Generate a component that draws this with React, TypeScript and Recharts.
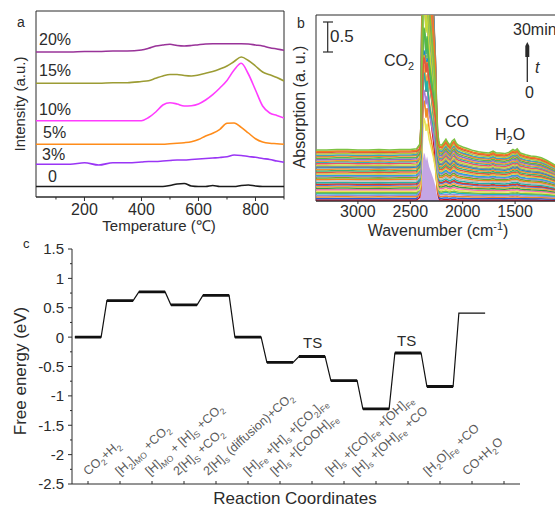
import React from 'react';
import { LineChart, ComposedChart, Line, Area, XAxis, YAxis, ReferenceArea } from 'recharts';

const FONT = '"Liberation Sans", Arial, Helvetica, sans-serif';
const INK = '#2b2b2b';

// ---------- panel a: temperature profiles ----------
const temps = [30, 100, 150, 200, 250, 300, 350, 400, 425, 450, 475, 500, 525, 550, 575, 600, 625, 650, 675, 700, 725, 750, 775, 800, 825, 850, 875, 900];
const tpr0 = [10.5, 10.5, 10.5, 10.5, 10.5, 10.5, 10.5, 10.5, 10.5, 10.5, 10.5, 11.5, 13, 13.5, 11, 10.5, 10.5, 11.5, 10.5, 10.5, 10.5, 11.5, 12, 11, 10.5, 10.5, 10.5, 10.5];
const tpr3 = [32.7, 32.7, 32.7, 34.3, 32, 34.3, 34.3, 35, 35.5, 35.5, 36, 36.5, 37, 37, 37.5, 38, 38.5, 39, 39.5, 40.3, 42, 41.5, 40.5, 39.7, 38.5, 37.5, 36, 34.7];
const tpr5 = [52.7, 52.7, 52.7, 52.7, 52.7, 52.7, 52.7, 52.7, 52.7, 52.7, 52.7, 53.3, 53.7, 54.3, 55.3, 57.5, 61, 63.7, 67.7, 73.7, 74, 69.7, 64, 58.3, 55, 53.7, 53.3, 52.7];
const tpr10 = [76.3, 76.3, 76.3, 76.3, 76.3, 76.3, 76.3, 76.3, 79.5, 85, 92, 94.3, 93, 91, 91.3, 93, 97, 102.3, 109, 116.5, 127, 133.7, 123, 107, 91, 84, 81.5, 79];
const tpr15 = [113.7, 113.7, 113.7, 113.7, 113.7, 114.3, 114.3, 115.5, 116.3, 118.7, 121, 122.5, 122.5, 121.5, 121, 122, 123.7, 125.5, 128, 131, 135.5, 140, 136.5, 131, 125, 122.3, 119.5, 116];
const tpr20 = [145, 145, 145, 145.5, 145.5, 146, 146, 147, 148.7, 151, 152, 152.7, 151.5, 151, 151.5, 152.3, 153, 153.3, 153.3, 153.3, 153.3, 153.3, 153, 152, 151, 149.3, 148, 146.7];
const tprKeys = ['p0', 'p3', 'p5', 'p10', 'p15', 'p20'];
const tprColors = ['#1a1a1a', '#9a35f5', '#ff8c1a', '#ff3cff', '#9c9c34', '#993399'];
const tprTicks = [100, 200, 300, 400, 500, 600, 700, 800, 900];

const tprRows = temps.map((t, i) => ({
  t, p0: tpr0[i], p3: tpr3[i], p5: tpr5[i], p10: tpr10[i], p15: tpr15[i], p20: tpr20[i],
}));

// ---------- panel b: in-situ spectra ----------
const wavenumbers = [3400, 3300, 3200, 3100, 3000, 2900, 2800, 2700, 2600, 2500, 2440, 2410, 2400, 2390, 2380, 2370, 2360, 2350, 2340, 2330, 2320, 2300, 2280, 2260, 2250, 2240, 2230, 2220, 2200, 2180, 2160, 2140, 2120, 2100, 2080, 2060, 2040, 2000, 1950, 1900, 1850, 1800, 1750, 1710, 1680, 1650, 1600, 1560, 1520, 1500, 1480, 1450, 1400, 1350, 1300, 1250, 1200, 1150, 1100];
// background of the 30 min spectrum (CO2 band excluded)
const finalSpectrum = [0.85, 0.85, 0.86, 0.86, 0.85, 0.85, 0.86, 0.85, 0.86, 0.86, 0.87, 0.88, 0.9, 0.92, 0.93, 0.94, 0.95, 0.96, 0.97, 0.98, 0.99, 1.0, 1.0, 0.99, 0.98, 0.97, 0.95, 0.94, 0.93, 0.98, 1.03, 0.97, 0.93, 1.0, 1.03, 0.96, 0.93, 0.9, 0.87, 0.84, 0.82, 0.81, 0.8, 0.83, 0.8, 0.8, 0.79, 0.81, 0.86, 0.84, 0.87, 0.8, 0.77, 0.75, 0.74, 0.72, 0.68, 0.63, 0.58];
// gas-phase CO2 band profile
const co2Band = [0, 0, 0, 0, 0, 0, 0, 0, 0, 0, 0, 0.02, 0.08, 0.45, 0.85, 1.0, 0.95, 0.82, 0.92, 0.8, 0.7, 0.58, 0.45, 0.3, 0.16, 0.06, 0.02, 0, 0, 0, 0, 0, 0, 0, 0, 0, 0, 0, 0, 0, 0, 0, 0, 0, 0, 0, 0, 0, 0, 0, 0, 0, 0, 0, 0, 0, 0, 0, 0];
const spectrumLevels = [0.02, 0.05, 0.08, 0.11, 0.14, 0.16, 0.19, 0.22, 0.25, 0.28, 0.31, 0.33, 0.36, 0.39, 0.42, 0.45, 0.48, 0.5, 0.53, 0.56, 0.59, 0.62, 0.65, 0.67, 0.7, 0.73, 0.76, 0.78, 0.81, 0.84, 0.87, 0.89, 0.92, 0.95, 0.97, 1.0];
const co2Amps = [2.2, 4.5, 1.6, 3.4, 5.8, 2.7, 1.2, 3.9, 6.5, 2.0, 3.1, 4.8, 1.8, 2.5, 5.2, 3.6, 1.4, 4.2, 2.9, 6.0, 2.3, 3.3, 1.9, 5.5, 2.6, 4.0, 3.0, 1.7, 4.6, 2.1, 3.7, 5.0, 2.8, 1.5, 4.4, 3.2];
const spectrumColors = ['#c8102e', '#1f5fd6', '#f08a24', '#9b8bd9', '#19b5c9', '#7fbf3f', '#e8e35a', '#ee6aa7', '#2f9e44', '#f4a340', '#5b6fd6', '#d8392b', '#22b3a6', '#b8b8b8', '#f07f1e', '#6aaa2a', '#a87fd1', '#27a6d9', '#e0c13a', '#e2553f', '#3cb371', '#f2912b', '#1e88c7', '#8e8e8e', '#c6d93c', '#e64f6e', '#2cb5b5', '#f6a02d', '#8a6bc9', '#58b947', '#ff7f24', '#3aa0c8', '#b0c93a', '#e2553f', '#f47b20', '#7dc242'];
const startLevel = 0.01;
const startCo2 = 0.8;

const spectraRows = wavenumbers.map((wn, i) => {
  const row: Record<string, number> = { wn, lav: startLevel * finalSpectrum[i] + startCo2 * co2Band[i] };
  spectrumLevels.forEach((lv, k) => {
    row['s' + k] = lv * finalSpectrum[i] + co2Amps[k] * co2Band[i];
  });
  return row;
});

// ---------- panel c: free energy diagram ----------
const energies = [0, 0.62, 0.77, 0.55, 0.71, 0, -0.43, -0.33, -0.74, -1.22, -0.27, -0.84, 0.41];
const stepLabels = [
  'CO_{2}+H_{2}',
  '[H_{2}]_{MO} +CO_{2}',
  '[H]_{MO} + [H]_{S} +CO_{2}',
  '2[H]_{S} +CO_{2}',
  '2[H]_{s} (diffusion)+CO_{2}',
  '[H]_{Fe} +[H]_{s} +[CO_{2}]_{Fe}',
  '[H]_{s} +[COOH]_{Fe}',
  '[H]_{s} +[CO]_{Fe} +[OH]_{Fe}',
  '[H]_{s} +[OH]_{Fe} +CO',
  '[H_{2}O]_{Fe} +CO',
  'CO+H_{2}O',
];
const stepLabelX = [88, 120, 150, 178, 208, 248, 275, 330, 357, 428, 467];
const energyTicks = [-2.5, -2.25, -2, -1.75, -1.5, -1.25, -1, -0.75, -0.5, -0.25, 0, 0.25, 0.5, 0.75, 1, 1.25, 1.5];
const coordTicks = [1, 2, 3, 4, 5, 6, 7, 8, 9, 10, 11, 12, 13, 14];
const hw = 0.41;

const levelPts = energies.flatMap((e, i) => [{ x: i + 1 - hw, e }, { x: i + 1 + hw, e }]);
const boldPts = energies.slice(0, 12).flatMap((e, i) => [
  { x: i + 1 - hw, e }, { x: i + 1 + hw, e }, { x: i + 1.5, e: null as number | null },
]);

// rich text with _{sub} and ^{sup}
function rich(s: string, fs: number) {
  const parts: React.ReactNode[] = [];
  const re = /([_^])\{([^}]*)\}/g;
  let last = 0;
  let shift = 0;
  let k = 0;
  let m: RegExpExecArray | null;
  while ((m = re.exec(s))) {
    if (m.index > last) {
      parts.push(<tspan key={k++} dy={-shift}>{s.slice(last, m.index)}</tspan>);
      shift = 0;
    }
    const d = m[1] === '_' ? fs * 0.28 : -fs * 0.36;
    parts.push(<tspan key={k++} dy={d - shift} fontSize={fs * 0.68}>{m[2]}</tspan>);
    shift = d;
    last = re.lastIndex;
  }
  if (last < s.length) parts.push(<tspan key={k++} dy={-shift}>{s.slice(last)}</tspan>);
  return parts;
}

const tprTick = (props: any) => {
  const { x, y, payload } = props;
  const major = payload.value % 200 === 0;
  return (
    <g>
      <line x1={x} x2={x} y1={y} y2={y + (major ? 4 : 2.5)} stroke={INK} />
      {major && (
        <text x={x} y={y + 18} textAnchor="middle" fontSize={16} fill={INK} fontFamily={FONT}>{payload.value}</text>
      )}
    </g>
  );
};

const wnTick = (props: any) => {
  const { x, y, payload } = props;
  return (
    <g>
      <line x1={x} x2={x} y1={y} y2={y + 3} stroke={INK} />
      <text x={x} y={y + 16} textAnchor="middle" fontSize={16} fill={INK} fontFamily={FONT}>{payload.value}</text>
    </g>
  );
};

const energyTick = (props: any) => {
  const { x, y, payload } = props;
  const major = Number.isInteger(payload.value * 2);
  return (
    <g>
      <line x1={x} x2={x - (major ? 4 : 2)} y1={y} y2={y} stroke={INK} />
      {major && (
        <text x={x - 8} y={y} dy="0.36em" textAnchor="end" fontSize={15} fill={INK} fontFamily={FONT}>{String(payload.value)}</text>
      )}
    </g>
  );
};

const coordTick = (props: any) => {
  const { x, y } = props;
  return <line x1={x} x2={x} y1={y} y2={y - 3} stroke={INK} />;
};

export default function App() {
  const txt = { fontFamily: FONT, fill: INK } as const;
  return (
    <div style={{ position: 'relative', width: 555, height: 508, overflow: 'hidden', background: '#fff', fontFamily: FONT }}>
      <style>{'body{margin:0}'}</style>

      <div style={{ position: 'absolute', left: 0, top: 0 }}>
        <LineChart width={300} height={230} data={tprRows} margin={{ top: 11, right: 16, left: 36, bottom: 0 }}>
          <XAxis dataKey="t" type="number" domain={[30, 900]} ticks={tprTicks} interval={0} tick={tprTick}
            tickLine={false} tickSize={0} tickMargin={0} height={33} axisLine={{ stroke: INK }} allowDataOverflow />
          <YAxis hide domain={[0, 186]} allowDataOverflow />
          <ReferenceArea x1={30} x2={900} y1={0} y2={186} fill="none" stroke={INK} strokeWidth={1} />
          {tprKeys.map((k, i) => (
            <Line key={k} dataKey={k} type="monotone" stroke={tprColors[i]} strokeWidth={1.6} dot={false} isAnimationActive={false} />
          ))}
        </LineChart>
      </div>

      <div style={{ position: 'absolute', left: 300, top: 0 }}>
        <ComposedChart width={257} height={230} data={spectraRows} margin={{ top: 15, right: 0, left: 16, bottom: 0 }}>
          <XAxis dataKey="wn" type="number" domain={[1100, 3400]} reversed ticks={[3000, 2500, 2000, 1500]} interval={0}
            tick={wnTick} tickLine={false} tickSize={0} tickMargin={0} height={29} axisLine={{ stroke: INK }} allowDataOverflow />
          <YAxis hide domain={[0, 3.1]} allowDataOverflow />
          <Area dataKey="lav" type="linear" stroke="none" fill="#c4a6e4" fillOpacity={1} isAnimationActive={false} />
          {spectrumLevels.map((_, k) => (
            <Line key={k} dataKey={'s' + k} type="linear" stroke={spectrumColors[k]} strokeWidth={1.5} dot={false} isAnimationActive={false} />
          ))}
          <ReferenceArea x1={1100} x2={3400} y1={0} y2={3.1} fill="none" stroke={INK} strokeWidth={1} />
        </ComposedChart>
      </div>

      <div style={{ position: 'absolute', left: 0, top: 240 }}>
        <LineChart width={540} height={268} margin={{ top: 9, right: 20, left: 0, bottom: 0 }}>
          <XAxis dataKey="x" type="number" domain={[0.5, 14.5]} ticks={coordTicks} interval={0} tick={coordTick}
            tickLine={false} tickSize={0} tickMargin={0} height={24} axisLine={{ stroke: INK }} />
          <YAxis type="number" domain={[-2.5, 1.5]} ticks={energyTicks} interval={0} tick={energyTick}
            tickLine={false} tickSize={0} tickMargin={0} width={72} axisLine={{ stroke: INK }} />
          <Line data={levelPts} dataKey="e" type="linear" stroke="#111" strokeWidth={1.2} dot={false} isAnimationActive={false} />
          <Line data={boldPts} dataKey="e" type="linear" stroke="#111" strokeWidth={2.8} dot={false} connectNulls={false} isAnimationActive={false} />
        </LineChart>
      </div>

      <svg width={555} height={508} style={{ position: 'absolute', left: 0, top: 0, pointerEvents: 'none' }}>
        {/* panel a */}
        <text x={17} y={27} fontSize={14} {...txt}>a</text>
        <text x={39} y={45} fontSize={16} {...txt}>20%</text>
        <text x={39} y={76} fontSize={16} {...txt}>15%</text>
        <text x={39} y={115} fontSize={16} {...txt}>10%</text>
        <text x={43} y={138} fontSize={16} {...txt}>5%</text>
        <text x={42} y={160} fontSize={16} {...txt}>3%</text>
        <text x={48} y={182} fontSize={16} {...txt}>0</text>
        <text transform="translate(25,104) rotate(-90)" textAnchor="middle" fontSize={15} {...txt}>Intensity (a.u.)</text>
        <text x={159} y={231} textAnchor="middle" fontSize={15} {...txt}>Temperature (℃)</text>

        {/* panel b */}
        <text x={297} y={28} fontSize={14} {...txt}>b</text>
        <line x1={327.7} x2={327.7} y1={22} y2={52} stroke={INK} strokeWidth={1.2} />
        <line x1={323} x2={333} y1={22} y2={22} stroke={INK} strokeWidth={1.2} />
        <line x1={323} x2={333} y1={52} y2={52} stroke={INK} strokeWidth={1.2} />
        <text x={330} y={41.5} fontSize={17} {...txt}>0.5</text>
        <text x={384} y={66} fontSize={16} {...txt}>{rich('CO_{2}', 16)}</text>
        <text x={445} y={127} fontSize={16} {...txt}>CO</text>
        <text x={495} y={140} fontSize={16} {...txt}>{rich('H_{2}O', 16)}</text>
        <text x={513} y={35} fontSize={16} {...txt}>30min</text>
        <line x1={527.3} x2={527.3} y1={50} y2={82} stroke={INK} strokeWidth={1.3} />
        <polygon points="527.3,42 529.3,46 529.3,57 525.3,57 525.3,46" fill={INK} />
        <text x={535} y={73} fontSize={16} fontStyle="italic" {...txt}>t</text>
        <text x={525} y={98} fontSize={16} {...txt}>0</text>
        <text transform="translate(305,107) rotate(-90)" textAnchor="middle" fontSize={16} {...txt}>Absorption (a. u.)</text>
        <text x={438} y={236} textAnchor="middle" fontSize={16} {...txt}>{rich('Wavenumber (cm^{-1})', 16)}</text>

        {/* panel c */}
        <text x={23} y={248} fontSize={13} {...txt}>c</text>
        <text x={303} y={348} fontSize={15} {...txt}>TS</text>
        <text x={397} y={346} fontSize={15} {...txt}>TS</text>
        <text transform="translate(26,371) rotate(-90)" textAnchor="middle" fontSize={17} {...txt}>Free energy (eV)</text>
        <text x={295} y={504} textAnchor="middle" fontSize={17} {...txt}>Reaction Coordinates</text>
        {stepLabels.map((s, i) => (
          <text key={i} transform={`translate(${stepLabelX[i]},476) rotate(-42)`} fontSize={12.5} fontFamily={FONT} fill="#5a5a5a">
            {rich(s, 12.5)}
          </text>
        ))}
      </svg>
    </div>
  );
}
